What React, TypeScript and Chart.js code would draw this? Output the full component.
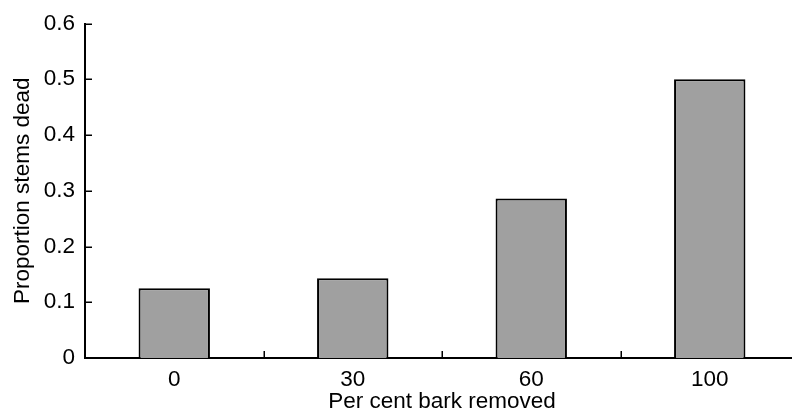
import React, { useEffect, useRef } from "react";
import { Chart, registerables } from "chart.js";

Chart.register(...registerables);

const categories = ["0", "30", "60", "100"];
const values = [0.125, 0.143, 0.286, 0.5];
const yMin = 0;
const yMax = 0.6;
const yStep = 0.1;
const xTitle = "Per cent bark removed";
const yTitle = "Proportion stems dead";

const FONT = "'Liberation Sans', Arial, Helvetica, sans-serif";
const FSIZE = 22.5;

const innerTicks = {
  id: "innerTicks",
  afterDatasetsDraw(chart: any) {
    const { ctx, chartArea } = chart;
    const x = chart.scales.x;
    const y = chart.scales.y;
    ctx.save();
    ctx.strokeStyle = "#000";
    ctx.lineWidth = 1.5;
    y.ticks.forEach((_t: any, i: number) => {
      const py = Math.round(y.getPixelForTick(i)) + 0.25;
      ctx.beginPath();
      ctx.moveTo(chartArea.left, py);
      ctx.lineTo(chartArea.left + 7, py);
      ctx.stroke();
    });
    for (let i = 1; i < x.ticks.length; i++) {
      const px = Math.round((x.getPixelForTick(i - 1) + x.getPixelForTick(i)) / 2) + 0.25;
      ctx.beginPath();
      ctx.moveTo(px, chartArea.bottom);
      ctx.lineTo(px, chartArea.bottom - 7);
      ctx.stroke();
    }
    ctx.restore();
  },
};

export default function App() {
  const ref = useRef<HTMLCanvasElement | null>(null);
  useEffect(() => {
    if (!ref.current) return;
    const chart = new Chart(ref.current, {
      type: "bar",
      data: {
        labels: categories,
        datasets: [
          {
            data: values,
            backgroundColor: "#a0a0a0",
            borderColor: "#000",
            borderWidth: 2,
            barPercentage: 0.4,
            categoryPercentage: 1,
          },
        ],
      },
      plugins: [innerTicks],
      options: {
        animation: false,
        responsive: false,
        devicePixelRatio: 1,
        layout: { padding: { left: 0, right: 1, top: 22, bottom: 0 } },
        plugins: {
          legend: { display: false },
          tooltip: { enabled: false },
        },
        scales: {
          x: {
            grid: { display: false, drawTicks: false },
            border: { display: true, color: "#000", width: 2 },
            ticks: {
              color: "#000",
              padding: 8,
              font: { family: FONT, size: FSIZE },
            },
            title: {
              display: true,
              text: xTitle,
              color: "#000",
              font: { family: FONT, size: FSIZE },
              padding: { top: 0, bottom: 0 },
            },
            afterFit(scale: any) {
              scale.height = 57;
            },
          },
          y: {
            min: yMin,
            max: yMax,
            grid: { display: false, drawTicks: false },
            border: { display: true, color: "#000", width: 2 },
            ticks: {
              stepSize: yStep,
              color: "#000",
              padding: 10,
              font: { family: FONT, size: FSIZE },
            },
            title: {
              display: true,
              text: yTitle,
              color: "#000",
              font: { family: FONT, size: FSIZE },
              padding: { top: 9, bottom: 0 },
            },
            afterFit(scale: any) {
              scale.width = 85;
            },
          },
        },
      },
    });
    return () => chart.destroy();
  }, []);
  return (
    <div
      style={{
        position: "fixed",
        left: 0,
        top: 0,
        width: 792,
        height: 415,
        overflow: "hidden",
        background: "#fff",
      }}
    >
      <canvas ref={ref} width={800} height={415} style={{ display: "block" }} />
    </div>
  );
}
